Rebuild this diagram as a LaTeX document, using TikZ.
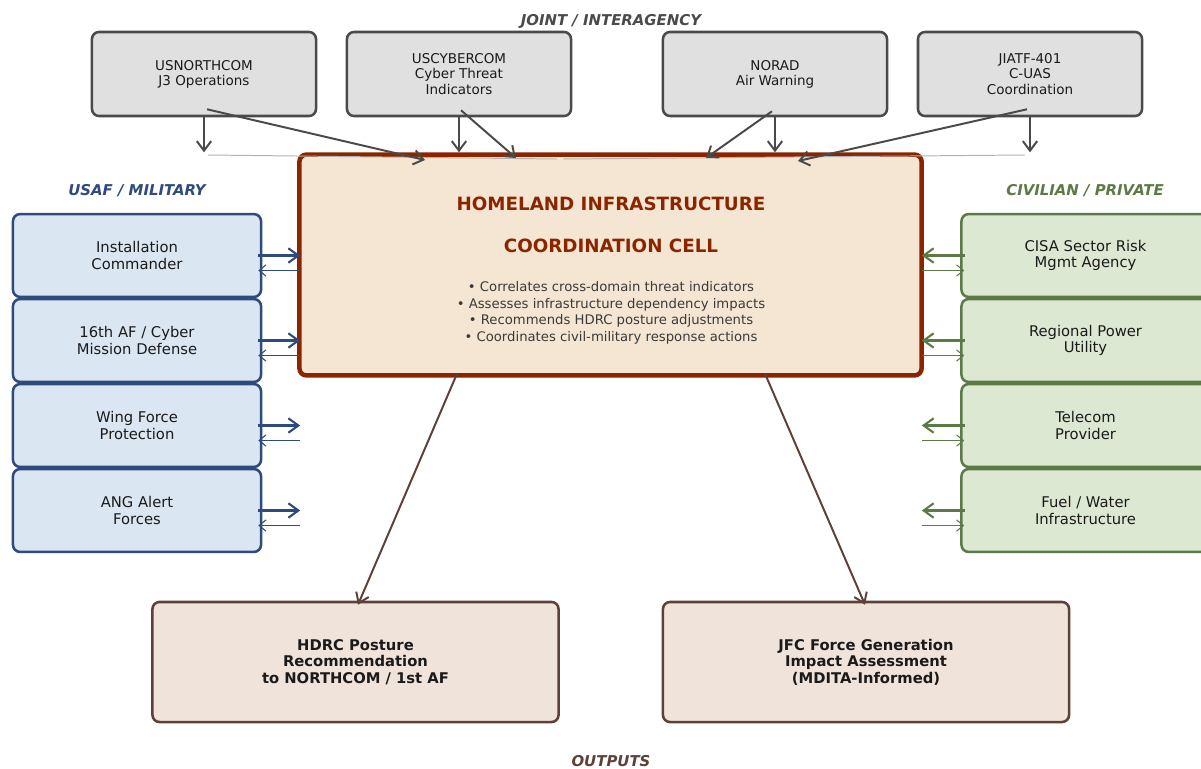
\documentclass[tikz,border=0pt]{standalone}
\usepackage{fontspec}
\setmainfont{DejaVu Sans}
\usepackage{tikz}
\usetikzlibrary{positioning,arrows.meta,calc}
\usepackage{xcolor}

\definecolor{topfill}{HTML}{E0E0E0}
\definecolor{topline}{HTML}{4A4A4A}
\definecolor{cellfill}{HTML}{F5E6D3}
\definecolor{cellline}{HTML}{8B2500}
\definecolor{milfill}{HTML}{DAE6F1}
\definecolor{milline}{HTML}{2E4A7F}
\definecolor{civfill}{HTML}{DDE8D3}
\definecolor{civline}{HTML}{5B7A45}
\definecolor{outfill}{HTML}{F0E4DA}
\definecolor{outbrown}{HTML}{5D4037}
\definecolor{boxtext}{HTML}{1A1A1A}
\definecolor{bullettext}{HTML}{3A3A3A}

\tikzset{
    topbox/.style={draw=topline, fill=topfill, line width=1.8pt, rounded corners=5pt,
        minimum width=5.6cm, minimum height=2.1cm, align=center, text=boxtext,
        font=\fontsize{9.6}{10.8}\selectfont},
    milbox/.style={draw=milline, fill=milfill, line width=1.8pt, rounded corners=5pt,
        minimum width=6.2cm, minimum height=2.07cm, align=center, text=boxtext,
        font=\fontsize{10.5}{11.4}\selectfont},
    civbox/.style={milbox, draw=civline, fill=civfill},
    outbox/.style={draw=outbrown, fill=outfill, line width=1.8pt, rounded corners=5pt,
        minimum width=10.15cm, minimum height=3cm, align=center, text=boxtext,
        font=\fontsize{10.5}{11.8}\selectfont\bfseries},
    grouplabel/.style={font=\fontsize{10.6}{12}\selectfont\bfseries\itshape},
    toparrow/.style={draw=topline, line width=1.4pt, -{Straight Barb[length=2.4mm,width=3.6mm]}},
    fwdarrow/.style={line width=1.5pt, -{Straight Barb[length=2.5mm,width=3.6mm]}},
    backarrow/.style={line width=0.75pt, -{Straight Barb[length=1.7mm,width=2.8mm]}},
    outarrow/.style={draw=outbrown, line width=1.4pt, -{Straight Barb[length=2.4mm,width=3.4mm]}},
}

\begin{document}
\begin{tikzpicture}[x=0.025cm, y=-0.025cm]
        \useasboundingbox (0,0) rectangle (1201,768);

        % Group labels
        \node[grouplabel, text=topline] (jointlbl) at (611,21) {JOINT / INTERAGENCY};
        \node[grouplabel, text=milline] (millbl) at (137,191) {USAF / MILITARY};
        \node[grouplabel, text=civline] (civlbl) at (1085,191) {CIVILIAN / PRIVATE};
        \node[grouplabel, text=outbrown] (outlbl) at (611,761) {OUTPUTS};

        % Joint / interagency partners
        \node[topbox] (usn) at (204,74) {USNORTHCOM\\J3 Operations};
        \node[topbox] (uscy) at (459,74) {USCYBERCOM\\Cyber Threat\\Indicators};
        \node[topbox] (norad) at (775,74) {NORAD\\Air Warning};
        \node[topbox] (jiatf) at (1030,74) {JIATF-401\\C-UAS\\Coordination};

        % Coordination cell
        \node[draw=cellline, fill=cellfill, line width=3.2pt, rounded corners=5pt,
            minimum width=15.55cm, minimum height=5.52cm] (cell) at (610.5,265) {};
        \node[text=cellline, font=\fontsize{13}{15}\selectfont\bfseries] (title1) at (611,204) {HOMELAND INFRASTRUCTURE};
        \node[text=cellline, font=\fontsize{13}{15}\selectfont\bfseries] (title2) at (611,246) {COORDINATION CELL};
        \node[text=bullettext, align=center, font=\fontsize{9.4}{11.8}\selectfont] (tasks) at (611,313)
            {• Correlates cross-domain threat indicators\\
             • Assesses infrastructure dependency impacts\\
             • Recommends HDRC posture adjustments\\
             • Coordinates civil-military response actions};

        % USAF / military units
        \node[milbox] (mil1) at (137,255.5) {Installation\\Commander};
        \node[milbox] (mil2) at (137,340.5) {16th AF / Cyber\\Mission Defense};
        \node[milbox] (mil3) at (137,425.5) {Wing Force\\Protection};
        \node[milbox] (mil4) at (137,510.5) {ANG Alert\\Forces};

        % Civilian / private partners
        \node[civbox] (civ1) at (1085.5,255.5) {CISA Sector Risk\\Mgmt Agency};
        \node[civbox] (civ2) at (1085.5,340.5) {Regional Power\\Utility};
        \node[civbox] (civ3) at (1085.5,425.5) {Telecom\\Provider};
        \node[civbox] (civ4) at (1085.5,510.5) {Fuel / Water\\Infrastructure};

        % Outputs
        \node[outbox] (hdrc) at (355.5,662) {HDRC Posture\\Recommendation\\to NORTHCOM / 1st AF};
        \node[outbox] (jfc) at (866,662) {JFC Force Generation\\Impact Assessment\\(MDITA-Informed)};

        % Faint guide lines under the top arrows
        \draw[gray!60, line width=0.7pt] (208,155) -- (557,159);
        \draw[gray!60, line width=0.7pt] (563,159) -- (1025,155);

        % Joint feeds into the cell
        \coordinate (usnin) at (425,160);
        \coordinate (uscyin) at (516,158);
        \coordinate (noradin) at (706,158);
        \coordinate (jiatfin) at (798,161);
        \draw[toparrow] (usn.south) -- (usn.south |- cell.north);
        \draw[toparrow] ($(usn.south)+(3,-8)$) -- (usnin);
        \draw[toparrow] (uscy.south) -- (uscy.south |- cell.north);
        \draw[toparrow] ($(uscy.south)+(2,-7)$) -- (uscyin);
        \draw[toparrow] (norad.south) -- (norad.south |- cell.north);
        \draw[toparrow] ($(norad.south)+(-3,-6)$) -- (noradin);
        \draw[toparrow] (jiatf.south) -- (jiatf.south |- cell.north);
        \draw[toparrow] ($(jiatf.south)+(-3,-8)$) -- (jiatfin);

        % Military exchange
        \draw[fwdarrow, milline] ($(mil1.east)+(-4,0)$) -- ($(mil1.east -| cell.west)+(3,0)$);
        \draw[backarrow, milline] ($(mil1.east -| cell.west)+(3,15)$) -- ($(mil1.east)+(-4,15)$);
        \draw[fwdarrow, milline] ($(mil2.east)+(-4,0)$) -- ($(mil2.east -| cell.west)+(3,0)$);
        \draw[backarrow, milline] ($(mil2.east -| cell.west)+(3,15)$) -- ($(mil2.east)+(-4,15)$);
        \draw[fwdarrow, milline] ($(mil3.east)+(-4,0)$) -- ($(mil3.east -| cell.west)+(3,0)$);
        \draw[backarrow, milline] ($(mil3.east -| cell.west)+(3,15)$) -- ($(mil3.east)+(-4,15)$);
        \draw[fwdarrow, milline] ($(mil4.east)+(-4,0)$) -- ($(mil4.east -| cell.west)+(3,0)$);
        \draw[backarrow, milline] ($(mil4.east -| cell.west)+(3,15)$) -- ($(mil4.east)+(-4,15)$);

        % Civilian exchange
        \draw[fwdarrow, civline] ($(civ1.west)+(5,0)$) -- ($(civ1.west -| cell.east)+(-2,0)$);
        \draw[backarrow, civline] ($(civ1.west -| cell.east)+(-2,15)$) -- ($(civ1.west)+(4,15)$);
        \draw[fwdarrow, civline] ($(civ2.west)+(5,0)$) -- ($(civ2.west -| cell.east)+(-2,0)$);
        \draw[backarrow, civline] ($(civ2.west -| cell.east)+(-2,15)$) -- ($(civ2.west)+(4,15)$);
        \draw[fwdarrow, civline] ($(civ3.west)+(5,0)$) -- ($(civ3.west -| cell.east)+(-2,0)$);
        \draw[backarrow, civline] ($(civ3.west -| cell.east)+(-2,15)$) -- ($(civ3.west)+(4,15)$);
        \draw[fwdarrow, civline] ($(civ4.west)+(5,0)$) -- ($(civ4.west -| cell.east)+(-2,0)$);
        \draw[backarrow, civline] ($(civ4.west -| cell.east)+(-2,15)$) -- ($(civ4.west)+(4,15)$);

        % Cell to outputs
        \draw[outarrow] ($(cell.south)+(-153.5,-4)$) -- ($(hdrc.north)+(2.5,4)$);
        \draw[outarrow] ($(cell.south)+(154.5,-4)$) -- ($(jfc.north)+(-1,4)$);
    \end{tikzpicture}
\end{document}
